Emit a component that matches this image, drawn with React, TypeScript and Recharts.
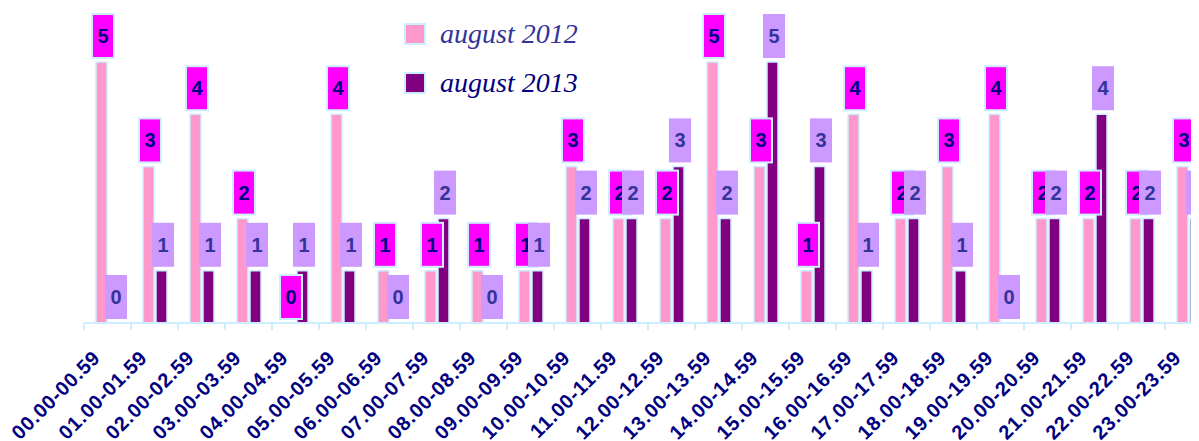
import { Bar, BarChart, LabelList, XAxis, YAxis } from "recharts";

const categories = [
  "00.00-00.59", "01.00-01.59", "02.00-02.59", "03.00-03.59", "04.00-04.59", "05.00-05.59",
  "06.00-06.59", "07.00-07.59", "08.00-08.59", "09.00-09.59", "10.00-10.59", "11.00-11.59",
  "12.00-12.59", "13.00-13.59", "14.00-14.59", "15.00-15.59", "16.00-16.59", "17.00-17.59",
  "18.00-18.59", "19.00-19.59", "20.00-20.59", "21.00-21.59", "22.00-22.59", "23.00-23.59",
];
const aug2012 = [5, 3, 4, 2, 0, 4, 1, 1, 1, 1, 3, 2, 2, 5, 3, 1, 4, 2, 3, 4, 2, 2, 2, 3];
const aug2013 = [0, 1, 1, 1, 1, 1, 0, 2, 0, 1, 2, 2, 3, 2, 5, 3, 1, 2, 1, 0, 2, 4, 2, 2];

const data = categories.map((name, i) => ({ name, a2012: aug2012[i], a2013: aug2013[i] }));

const PINK = "#ff99cc";
const PURPLE = "#800080";
const EDGE = "#cdeeff";
const FONT = "'Liberation Sans', Arial, sans-serif";

const CHART_W = 1230;
const MARGIN = { top: 54, right: 26, left: 76, bottom: 0 };
const STEP = (CHART_W - MARGIN.left - MARGIN.right) / categories.length;

function makeLabel(fill: string, textColor: string, border: boolean) {
  return (props: any) => {
    const { x, y, width, height, value } = props;
    const cx = x + width / 2 + 1.5;
    const top0 = height < 0 ? y + height : y;
    const w = 22;
    const h = 44;
    const top = top0 - 4 - h;
    return (
      <g>
        <rect
          x={cx - w / 2}
          y={top}
          width={w}
          height={h}
          fill={fill}
          stroke={border ? EDGE : "none"}
          strokeWidth={2}
        />
        <text
          x={cx}
          y={top + h / 2 + 7}
          textAnchor="middle"
          fontFamily={FONT}
          fontWeight="bold"
          fontSize={20}
          fill={textColor}
        >
          {value}
        </text>
      </g>
    );
  };
}

function HourTick(props: any) {
  const { x, y, payload } = props;
  const bx = x - STEP / 2;
  const tx = x - 6;
  const ty = y + 36;
  return (
    <g>
      <line x1={bx} y1={y} x2={bx} y2={y + 7} stroke={EDGE} strokeWidth={2} />
      <text
        x={tx}
        y={ty}
        transform={`rotate(-45 ${tx} ${ty})`}
        textAnchor="end"
        fontFamily={FONT}
        fontWeight="bold"
        fontSize={20}
        letterSpacing={0.8}
        fill="#000080"
      >
        {payload.value}
      </text>
    </g>
  );
}

function LegendBox() {
  const items = [
    { label: "august 2012", color: PINK, text: "#333399" },
    { label: "august 2013", color: PURPLE, text: "#000080" },
  ];
  return (
    <div style={{ position: "absolute", left: 396, top: 1 }}>
      {items.map((it) => (
        <div key={it.label} style={{ display: "flex", alignItems: "center", height: 49 }}>
          <span
            style={{
              display: "inline-block",
              width: 18,
              height: 18,
              background: it.color,
              border: `2px solid ${EDGE}`,
              marginRight: 14,
            }}
          />
          <span
            style={{
              fontFamily: "'Liberation Serif', 'DejaVu Serif', serif",
              fontStyle: "italic",
              fontSize: 28,
              color: it.text,
              whiteSpace: "nowrap",
            }}
          >
            {it.label}
          </span>
        </div>
      ))}
    </div>
  );
}

export default function App() {
  return (
    <div style={{ width: 1191, overflow: "hidden", position: "relative" }}>
      <BarChart
        width={CHART_W}
        height={433}
        data={data}
        margin={MARGIN}
        barSize={11}
        barGap={2}
      >
        <XAxis
          dataKey="name"
          interval={0}
          height={118}
          tickLine={false}
          tickSize={0}
          tickMargin={0}
          axisLine={{ stroke: EDGE, strokeWidth: 2 }}
          tick={<HourTick />}
        />
        <YAxis hide domain={[0, 5]} />
        <Bar
          dataKey="a2012"
          fill={PINK}
          stroke={EDGE}
          strokeWidth={1.5}
          minPointSize={0.01}
          isAnimationActive={false}
        >
          <LabelList dataKey="a2012" content={makeLabel("#ff00ff", "#000080", true)} />
        </Bar>
        <Bar
          dataKey="a2013"
          fill={PURPLE}
          stroke={EDGE}
          strokeWidth={1.5}
          minPointSize={0.01}
          isAnimationActive={false}
        >
          <LabelList dataKey="a2013" content={makeLabel("#cc99ff", "#333399", false)} />
        </Bar>
      </BarChart>
      <LegendBox />
    </div>
  );
}
